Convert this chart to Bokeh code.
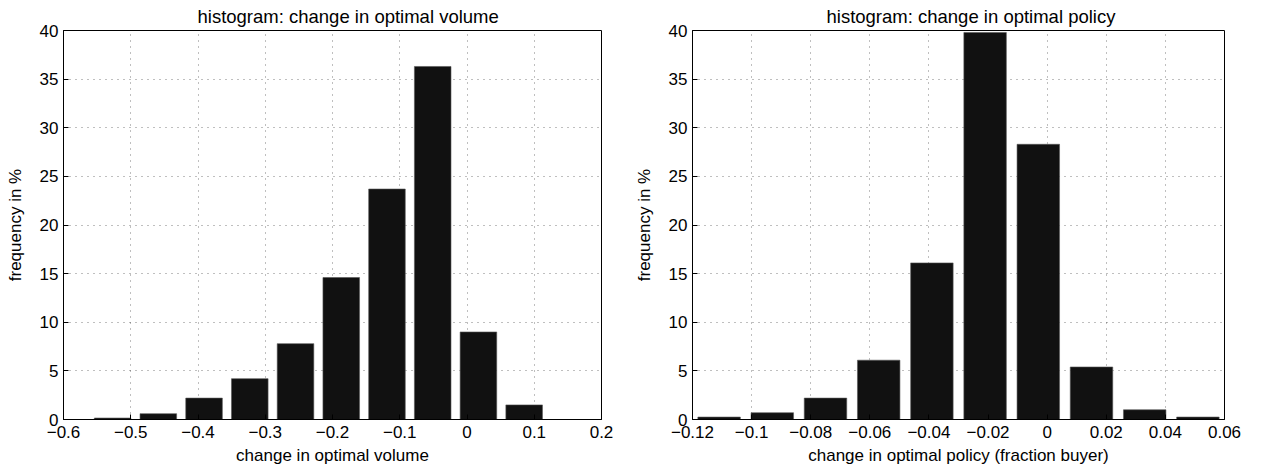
from bokeh.plotting import figure
from bokeh.layouts import row
from bokeh.models import Range1d, FixedTicker, CustomJSTickFormatter
from bokeh.embed import file_html
from bokeh.resources import INLINE

# ---- data ----
vol_centers = [-0.527, -0.459, -0.391, -0.323, -0.255, -0.187, -0.119, -0.051, 0.017, 0.085]
vol_freq = [0.15, 0.6, 2.2, 4.2, 7.8, 14.6, 23.7, 36.3, 9.0, 1.5]
vol_ticks = [-0.6, -0.5, -0.4, -0.3, -0.2, -0.1, 0.0, 0.1, 0.2]

pol_centers = [-0.111, -0.093, -0.075, -0.057, -0.039, -0.021, -0.003, 0.015, 0.033, 0.051]
pol_freq = [0.25, 0.7, 2.2, 6.1, 16.1, 39.8, 28.3, 5.4, 1.0, 0.25]
pol_ticks = [-0.12, -0.1, -0.08, -0.06, -0.04, -0.02, 0.0, 0.02, 0.04, 0.06]

y_ticks = [0, 5, 10, 15, 20, 25, 30, 35, 40]

FONT = "Liberation Sans"
FS = "17px"
TFS = "18.5px"

fmt = CustomJSTickFormatter(code="""
const v = Math.round(tick * 1000) / 1000;
return String(v).replace('-', '\u2212');
""")


def make(title, title_offset, xlabel, centers, freq, ticks, xr, bin_w, fw, bl, br):
    p = figure(width=bl + fw + br, height=465, frame_width=fw, frame_height=389,
               x_range=Range1d(*xr), y_range=Range1d(0, 40),
               output_backend="svg", toolbar_location=None,
               min_border_left=bl, min_border_right=br, min_border_top=30,
               min_border_bottom=10)
    p.title.text = title
    p.title.align = "left"
    p.title.offset = title_offset
    p.title.text_font = FONT
    p.title.text_font_size = TFS
    p.title.text_font_style = "normal"
    p.title.text_color = "black"
    p.title.standoff = 7

    p.vbar(x=centers, top=freq, width=bin_w, bottom=0,
           fill_color="#111111", line_color="#555555", line_width=0.6)

    p.xaxis.ticker = FixedTicker(ticks=ticks)
    p.yaxis.ticker = FixedTicker(ticks=y_ticks)
    p.xaxis.formatter = fmt
    for ax in (p.xaxis[0], p.yaxis[0]):
        ax.major_tick_in = 5
        ax.major_tick_out = 0
        ax.minor_tick_in = 0
        ax.minor_tick_out = 0
        ax.axis_line_color = "black"
        ax.major_tick_line_color = "black"
        ax.major_label_text_font = FONT
        ax.major_label_text_font_size = FS
        ax.major_label_text_color = "black"
        ax.axis_label_text_font = FONT
        ax.axis_label_text_font_size = FS
        ax.axis_label_text_font_style = "normal"
        ax.axis_label_text_color = "black"
    p.xaxis.axis_label = xlabel
    p.yaxis.axis_label = "frequency in %"
    p.xaxis.major_label_standoff = 6
    p.xaxis.axis_label_standoff = 5
    p.yaxis.major_label_standoff = 5
    p.yaxis.axis_label_standoff = 12

    p.xgrid.ticker = FixedTicker(ticks=ticks)
    p.ygrid.ticker = FixedTicker(ticks=y_ticks)
    for g in (p.xgrid[0], p.ygrid[0]):
        g.grid_line_color = "#000000"
        g.grid_line_alpha = 0.5
        g.grid_line_dash = "1 5"
        g.grid_line_width = 1

    p.outline_line_color = "black"
    p.outline_line_width = 1
    p.outline_line_alpha = 1
    p.background_fill_color = "white"
    p.border_fill_color = "white"
    return p


p1 = make("histogram: change in optimal volume", 134, "change in optimal volume",
          vol_centers, vol_freq, vol_ticks, (-0.6, 0.2), 0.0544, 538, 63, 30)
p2 = make("histogram: change in optimal policy", 134, "change in optimal policy (fraction buyer)",
          pol_centers, pol_freq, pol_ticks, (-0.12, 0.06), 0.01437, 532, 60, 20)

layout = row(p1, p2, spacing=0)
open("out.html", "w").write(file_html(layout, INLINE))
